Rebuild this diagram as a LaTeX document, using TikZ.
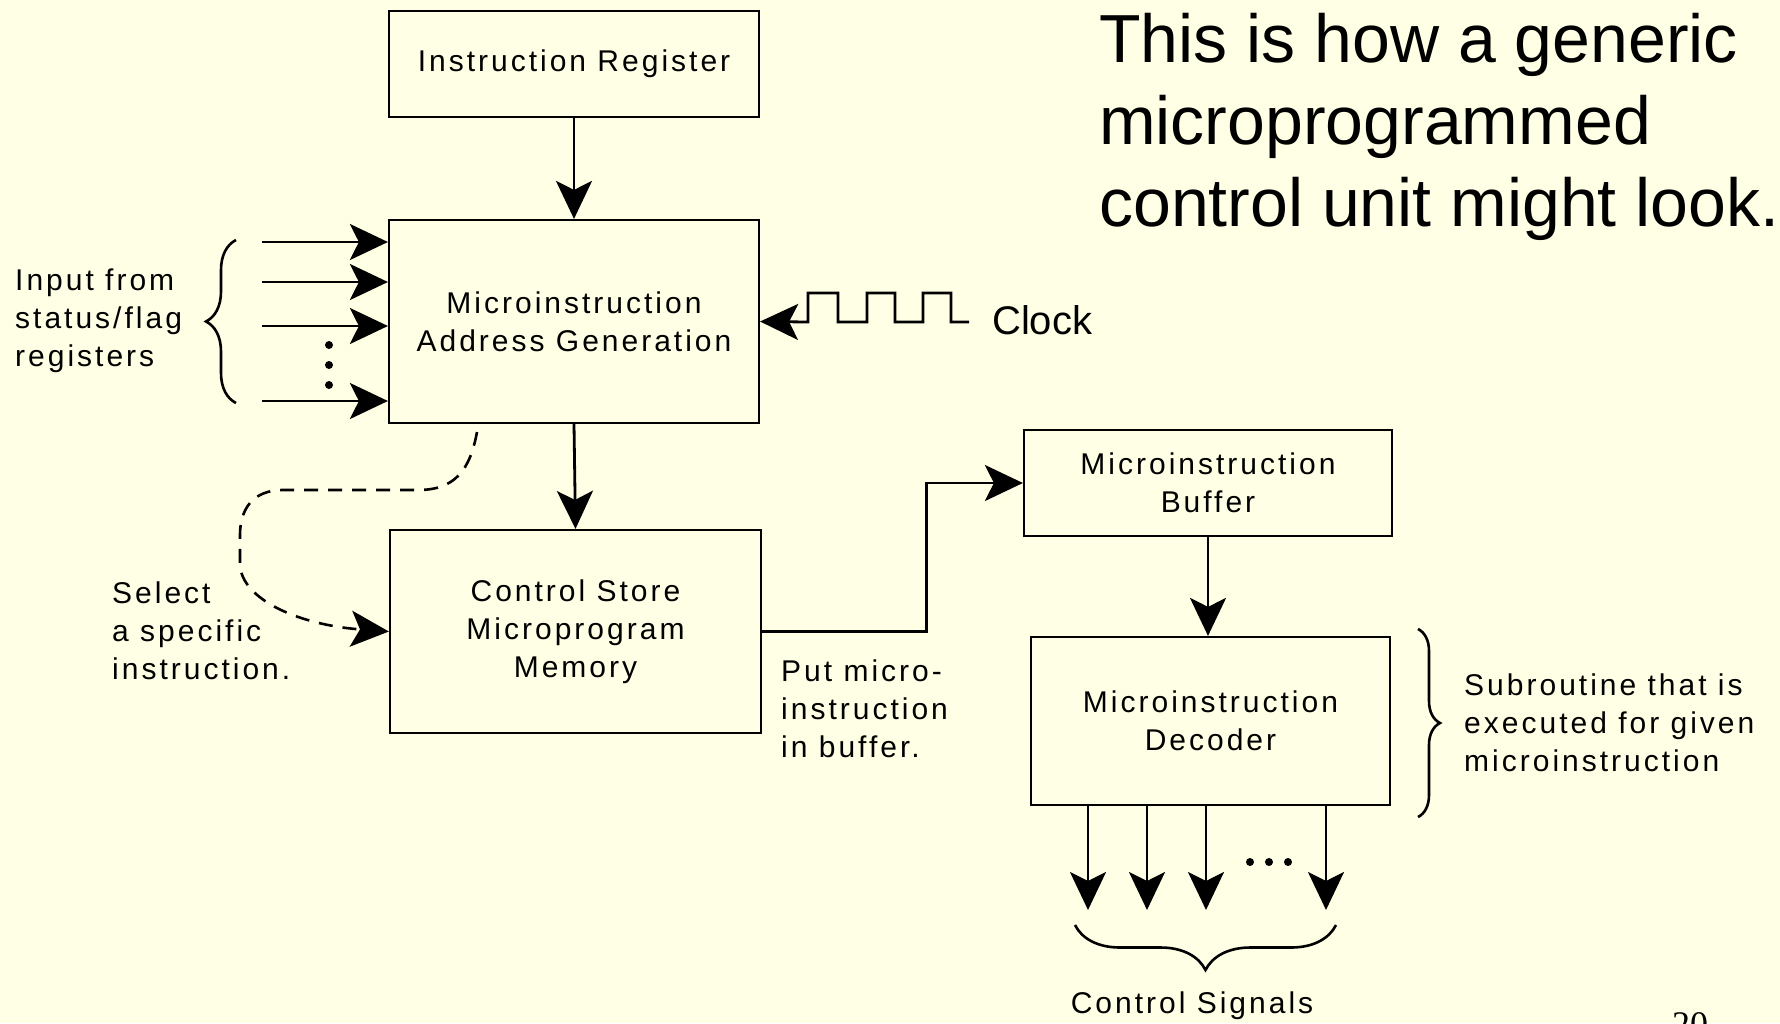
\documentclass[tikz,border=0pt]{standalone}
\usepackage{fontspec}
\setmainfont{Liberation Sans}
\newfontfamily\dfont[LetterSpace=10]{Liberation Sans}
\newfontfamily\pgnum{Liberation Serif}
\usetikzlibrary{arrows.meta,decorations.pathreplacing}
\definecolor{bg}{RGB}{255,255,229}
\begin{document}
\begin{tikzpicture}[x=1pt,y=-1pt,
  blk/.style={draw, line width=2.2pt, inner sep=0pt, align=center,
    font=\dfont\fontsize{30}{38}\selectfont},
  arr/.style={line width=2.8pt, -{Stealth[length=38pt,width=36pt,inset=9pt]}},
  lbl/.style={font=\dfont\fontsize{30}{38}\selectfont, align=left, anchor=west, inner sep=0pt},
  brc/.style={decorate, line width=2.6pt, decoration={brace, amplitude=#1}},
  dashline/.style={line width=2.6pt, dash pattern=on 14pt off 10pt},
]
\useasboundingbox (0,0) rectangle (1780,1023);
\fill[bg] (0,0) rectangle (1780,1023);
\clip (0,0) rectangle (1780,1023);

% blocks
\node[blk, minimum width=370pt, minimum height=106pt] (ir) at (574,64) {Instruction Register};
\node[blk, minimum width=370pt, minimum height=203pt] (mag) at (574,321.5) {Microinstruction\\Address Generation};
\node[blk, minimum width=371pt, minimum height=203pt] (cs) at (575.5,631.5) {Control Store\\Microprogram\\Memory};
\node[blk, minimum width=368pt, minimum height=106pt] (buf) at (1208,483) {Microinstruction\\Buffer};
\node[blk, minimum width=359pt, minimum height=168pt] (dec) at (1210.5,721) {Microinstruction\\Decoder};

% main arrows
\draw[arr] (ir.south) -- (mag.north);
\draw[arr] (mag.south) -- (cs.north);
\draw[arr] (cs.east) -- ++(164,0) |- (buf.west);
\draw[arr] (buf.south) -- (buf.south |- dec.north);

% input arrows
\foreach \yy [count=\i] in {242,282,326,401} {
  \coordinate (in\i) at (262,\yy);
  \draw[arr] (in\i) -- (in\i -| mag.west);
}
\foreach \yy in {345,365,385} \fill (329,\yy) circle (4);
\draw[brc=30] (236,403) -- (236,240);
\node[lbl] (inlbl) at (15,321) {Input from\\status/flag\\registers};

% clock
\coordinate (clk) at (969,322);
\draw[line width=2.8pt, -{Stealth[length=38pt,width=36pt,inset=9pt]}, line join=miter]
  (clk) -- (951,322) -- (951,293) -- (923,293) -- (923,322) -- (895,322) -- (895,293)
  -- (867,293) -- (867,322) -- (838,322) -- (838,293) -- (808,293) -- (808,322) -- (mag.east);
\node[anchor=west, inner sep=0pt, font=\fontsize{40}{48}\selectfont] (clock) at (992,320) {Clock};

% dashed select path
\coordinate (ds) at (477,432);
\draw[dashline, -{Stealth[length=38pt,width=36pt,inset=9pt]}]
  (ds) .. controls (470,470) and (455,490) .. (418,490) -- (283,490)
  .. controls (252,490) and (240,510) .. (240,535) -- (240,565)
  .. controls (242,600) and (300,625) .. (cs.west);
\node[lbl] (sel) at (112,631) {Select\\a specific\\instruction.};

% put in buffer label
\node[lbl] (put) at (781,709) {Put micro-\\instruction\\in buffer.};

% outputs
\foreach \xx [count=\i] in {1088,1147,1206,1326} {
  \coordinate (o\i) at (\xx,910);
  \draw[arr] (dec.south -| o\i) -- (o\i);
}
\foreach \xx in {1250,1269,1288} \fill (\xx,862) circle (4);
\draw[brc=45] (1336,925) -- (1075,925);
\node[font=\dfont\fontsize{30}{38}\selectfont, inner sep=0pt] (cslbl) at (1192,1006) {Control Signals};

% subroutine brace
\draw[brc=22] (1418,629) -- (1418,817);
\node[lbl] (sub) at (1464,723) {Subroutine that is\\executed for given\\microinstruction};

% title
\node[anchor=base west, inner sep=0pt, font=\fontsize{68}{82}\selectfont] (t1) at (1099,62) {This is how a generic};
\node[anchor=base west, inner sep=0pt, font=\fontsize{68}{82}\selectfont] (t2) at (1099,144) {microprogrammed};
\node[anchor=base west, inner sep=0pt, font=\fontsize{68}{82}\selectfont] (t3) at (1099,226) {control unit might look.};

% page number
\node[anchor=base west, inner sep=0pt, font=\pgnum\fontsize{36}{40}\selectfont] (pg) at (1672,1036) {20};
\end{tikzpicture}
\end{document}
